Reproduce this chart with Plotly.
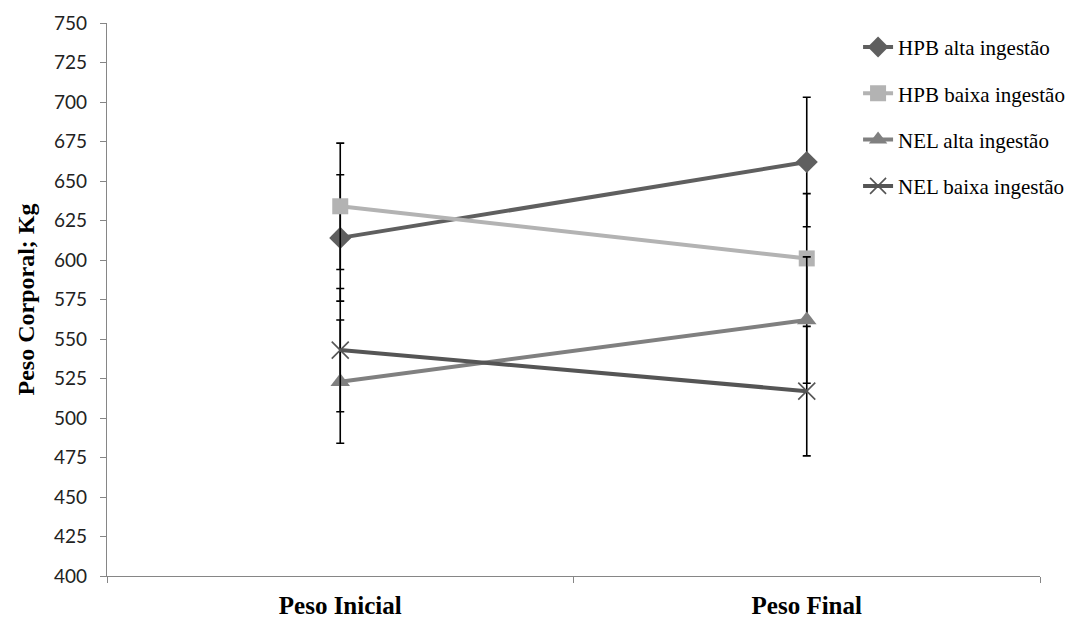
import plotly.graph_objects as go

categories = ["Peso Inicial", "Peso Final"]
series_names = ["HPB alta ingestão", "HPB baixa ingestão", "NEL alta ingestão", "NEL baixa ingestão"]
hpb_alta = [614, 662]
hpb_baixa = [634, 601]
nel_alta = [523, 562]
nel_baixa = [543, 517]
hpb_alta_err = [40, 41]
hpb_baixa_err = [40, 41]
nel_alta_err = [39, 40]
nel_baixa_err = [39, 41]
y_ticks = list(range(400, 751, 25))

values = [hpb_alta, hpb_baixa, nel_alta, nel_baixa]
errors = [hpb_alta_err, hpb_baixa_err, nel_alta_err, nel_baixa_err]
colors = ["#5f5f5f", "#b3b3b3", "#808080", "#555555"]
markers = [
    dict(symbol="diamond", size=17),
    dict(symbol="square", size=16),
    dict(symbol="triangle-up", size=17),
    dict(symbol="x-thin-open", size=17, line=dict(width=1.6)),
]

fig = go.Figure()
for name, vals, err, col, mk in zip(series_names, values, errors, colors, markers):
    m = dict(mk)
    m["color"] = col
    if "line" in m:
        m["line"] = dict(width=1.6, color=col)
    fig.add_trace(go.Scatter(
        x=categories, y=vals, name=name, mode="lines+markers",
        line=dict(color=col, width=4), marker=m,
        legendgroup=name,
        error_y=dict(type="data", array=err, visible=True, color="black", thickness=1.6, width=4),
    ))

fig.update_layout(
    width=1074, height=610,
    margin=dict(l=99, r=42, t=15, b=42, autoexpand=False),
    plot_bgcolor="white", paper_bgcolor="white",
    showlegend=True,
    legend=dict(x=0.805, y=0.993, xanchor="left", yanchor="top",
                font=dict(family="Liberation Serif", size=21, color="black"),
                tracegroupgap=16, bgcolor="rgba(0,0,0,0)"),
    xaxis=dict(type="category", range=[-0.5, 1.5], showline=True, linecolor="#868686", linewidth=1.3,
               ticks="outside", tickson="boundaries", ticklen=6, tickcolor="#868686",
               showgrid=False, zeroline=False, automargin=False,
               tickfont=dict(family="Liberation Serif", size=25, color="black"),
               ticklabelstandoff=7),
    yaxis=dict(range=[400, 750], tickvals=y_ticks, showline=True, linecolor="#868686", linewidth=1.3,
               ticks="outside", ticklen=6, tickcolor="#868686", showgrid=False, zeroline=False,
               automargin=False, ticklabelstandoff=9,
               tickfont=dict(family="Lato", size=19, color="#222222"),
               title=dict(text="<b>Peso Corporal; Kg</b>", standoff=12,
                          font=dict(family="Liberation Serif", size=24, color="black"))),
)
fig.update_xaxes(tickprefix="<b>", ticksuffix="</b>")

fig.write_html("out.html")
